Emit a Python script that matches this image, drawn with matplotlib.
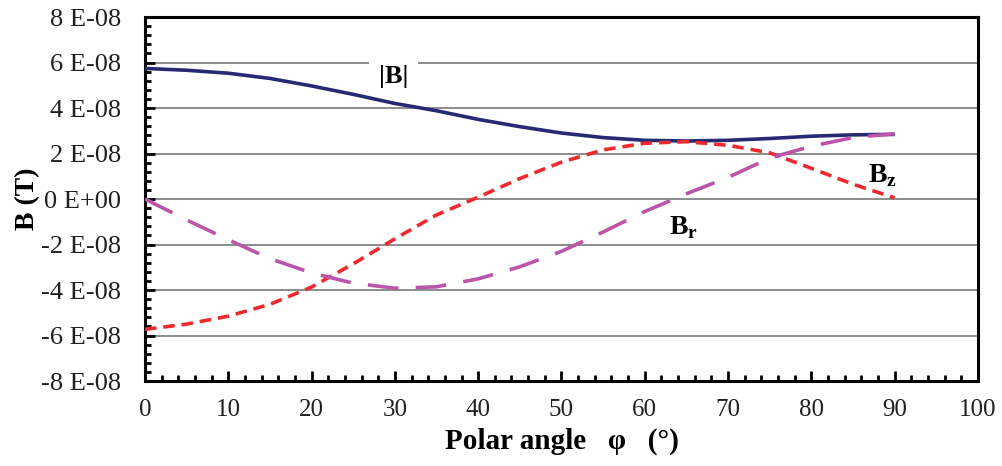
import numpy as np
import matplotlib
matplotlib.use("Agg")
import matplotlib.pyplot as plt
from matplotlib.ticker import MultipleLocator, FuncFormatter

plt.rcParams['font.family'] = ['Liberation Serif', 'DejaVu Serif']
plt.rcParams['axes.unicode_minus'] = False
plt.rcParams['mathtext.fontset'] = 'custom'
plt.rcParams['mathtext.rm'] = 'Liberation Serif'
plt.rcParams['mathtext.bf'] = 'Liberation Serif:bold'

# polar angle (deg) and field components (in units of 1e-8 T)
phi = [0, 5, 10, 15, 20, 25, 30, 35, 40, 45, 50, 55, 60, 65, 70, 75, 80, 85, 90]
b_abs = [5.74, 5.66, 5.53, 5.30, 4.97, 4.60, 4.20, 3.88, 3.50, 3.18, 2.90, 2.70,
         2.58, 2.55, 2.58, 2.66, 2.76, 2.82, 2.84]
b_z = [-5.73, -5.50, -5.15, -4.63, -3.87, -2.85, -1.75, -0.70, 0.08, 0.90, 1.62,
       2.16, 2.45, 2.52, 2.36, 2.03, 1.35, 0.65, 0.05]
b_r = [0.0, -0.92, -1.79, -2.62, -3.25, -3.70, -3.92, -3.86, -3.51, -2.98, -2.30,
       -1.45, -0.55, 0.23, 0.95, 1.80, 2.32, 2.70, 2.87]
scale = 1e-8

fig = plt.figure(figsize=(10.02, 4.66), dpi=100)
ax = fig.add_axes([0.1447, 0.1824, 0.8313, 0.7811])

x = np.array(phi)
ax.plot(x, np.array(b_abs) * scale, color='#262a72', lw=2.6, solid_capstyle='butt', zorder=3)
ax.plot(x, np.array(b_z) * scale, color='#ee2a2e', lw=2.6, dashes=(3.2, 1.9), zorder=3)
ax.plot(x, np.array(b_r) * scale, color='#bb55aa', lw=2.6, dashes=(8.5, 4.8), zorder=3)

ax.set_xlim(0, 100)
ax.set_ylim(-8e-8, 8e-8)
ax.xaxis.set_major_locator(MultipleLocator(10))
ax.xaxis.set_minor_locator(MultipleLocator(2))
ax.yaxis.set_major_locator(MultipleLocator(2e-8))
ax.yaxis.set_minor_locator(MultipleLocator(0.4e-8))


def fmt(v, pos):
    n = int(round(v / 1e-8))
    if n == 0:
        return "0 E+00"
    return "%d E-08" % n


ax.yaxis.set_major_formatter(FuncFormatter(fmt))
ax.grid(axis='y', which='major', color='#6e6e6e', lw=1.1)
ax.set_axisbelow(True)

for s in ax.spines.values():
    s.set_linewidth(2.2)
    s.set_color('black')

ax.tick_params(which='both', direction='in', color='black', width=2.0,
               labelcolor='#231f20')
ax.tick_params(which='major', length=7)
ax.tick_params(which='minor', length=4.5)
ax.tick_params(axis='x', pad=13, labelsize=18)
ax.tick_params(axis='y', pad=17, labelsize=19)
ax.tick_params(axis='y', which='both', right=False)
ax.tick_params(axis='x', which='both', top=False)

ax.set_xlabel("Polar angle   φ   (°)", fontsize=21, fontweight='bold', labelpad=5)
ax.set_ylabel("B (T)", fontsize=20, fontweight='bold', labelpad=1)

ax.text(29.8, 5.4e-8, "|B|", fontsize=19, fontweight='bold', ha='center', va='center',
        bbox=dict(facecolor='white', edgecolor='none', pad=7), zorder=2)
ax.text(88.6, 1.05e-8, r"B$_\mathbf{z}$", fontsize=20, fontweight='bold', ha='center', va='center')
ax.text(64.6, -1.25e-8, r"B$_\mathbf{r}$", fontsize=20, fontweight='bold', ha='center', va='center')

fig.savefig("out.png", dpi=100)
